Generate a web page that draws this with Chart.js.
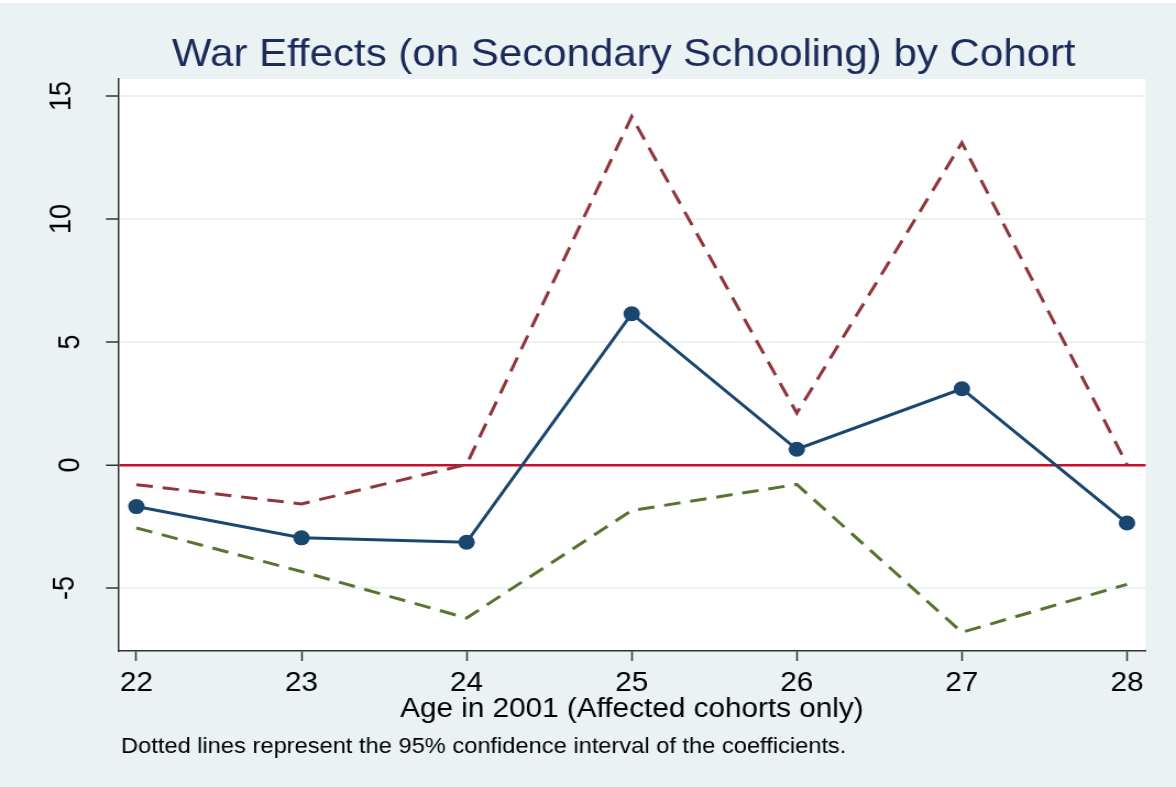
<!DOCTYPE html>
<html>
<head>
<meta charset="utf-8">
<title>War Effects by Cohort</title>
<script src="https://cdn.jsdelivr.net/npm/chart.js@4.4.1/dist/chart.umd.min.js"></script>
<style>
  html, body { margin: 0; padding: 0; background: #eaf2f3; overflow: hidden; }
  /* The graph is laid out on a 1069px-wide canvas and widened to the page width. */
  #wrap { position: absolute; left: 0; top: 0; width: 1069px; height: 787px;
          transform: scaleX(1.1001); transform-origin: 0 0; }
</style>
</head>
<body>
<div id="wrap"><canvas id="c"></canvas></div>
<script>
// Age in 2001 of each affected cohort
const ages = [22, 23, 24, 25, 26, 27, 28];
// Estimated war effect on secondary schooling, with its 95% confidence bounds
const coefficient = [-1.69, -2.96, -3.14, 6.15, 0.64, 3.10, -2.36];
const upperBound  = [-0.80, -1.58, 0.02, 14.16, 2.11, 13.10, 0.02];
const lowerBound  = [-2.56, -4.33, -6.22, -1.85, -0.79, -6.80, -4.85];
// Labelled values on the vertical axis
const yTicks = [-5, 0, 5, 10, 15];

const titleText = 'War Effects (on Secondary Schooling) by Cohort';
const xTitle = 'Age in 2001 (Affected cohorts only)';
const noteText = 'Dotted lines represent the 95% confidence interval of the coefficients.';

const FONT = '"Liberation Sans", Arial, Helvetica, sans-serif';
const BG = '#eaf2f3';

const toPoints = vals => ages.map((a, i) => ({ x: a, y: vals[i] }));

// Backgrounds, title, rotated y labels and the note under the graph
const decor = {
  id: 'decor',
  beforeDraw(chart) {
    const { ctx, width, height, chartArea: a } = chart;
    ctx.save();
    ctx.fillStyle = BG;
    ctx.fillRect(0, 0, width, height);
    ctx.fillStyle = '#ffffff';
    ctx.fillRect(0, 0, width, 3);
    ctx.fillRect(a.left, a.top, a.right - a.left, a.bottom - a.top);
    ctx.restore();
  },
  afterDraw(chart) {
    const { ctx } = chart;
    const yScale = chart.scales.y;
    ctx.save();
    ctx.fillStyle = '#1c2a5a';
    ctx.font = '38.2px ' + FONT;
    ctx.textAlign = 'center';
    ctx.textBaseline = 'alphabetic';
    ctx.fillText(titleText, 567, 66);

    ctx.fillStyle = '#000000';
    ctx.font = '27px ' + FONT;
    yTicks.forEach(v => {
      const label = String(v);
      const w = ctx.measureText(label).width;
      const cx = 69.5 - w / 2;
      const py = yScale.getPixelForValue(v);
      ctx.save();
      ctx.translate(cx + 9.7, py);
      ctx.rotate(-Math.PI / 2);
      ctx.textAlign = 'center';
      ctx.textBaseline = 'alphabetic';
      ctx.fillText(label, 0, 0);
      ctx.restore();
    });

    ctx.font = '21.5px ' + FONT;
    ctx.textAlign = 'left';
    ctx.textBaseline = 'alphabetic';
    ctx.fillText(noteText, 110, 753);
    ctx.restore();
  }
};

new Chart(document.getElementById('c'), {
  type: 'line',
  data: {
    datasets: [
      {
        label: 'Upper bound',
        data: toPoints(upperBound),
        borderColor: '#90353b',
        borderWidth: 3,
        borderDash: [15, 9],
        pointRadius: 0,
        fill: false,
        tension: 0
      },
      {
        label: 'Lower bound',
        data: toPoints(lowerBound),
        borderColor: '#55752f',
        borderWidth: 3,
        borderDash: [15, 9],
        pointRadius: 0,
        fill: false,
        tension: 0
      },
      {
        label: 'Coefficient',
        data: toPoints(coefficient),
        borderColor: '#1a476f',
        backgroundColor: '#1a476f',
        borderWidth: 3,
        pointRadius: 7.5,
        pointHoverRadius: 7.5,
        pointBackgroundColor: '#1a476f',
        pointBorderColor: '#1a476f',
        pointBorderWidth: 0,
        fill: false,
        tension: 0
      }
    ]
  },
  options: {
    responsive: true,
    maintainAspectRatio: false,
    animation: false,
    events: [],
    layout: { padding: { left: 0, right: 27.6, top: 79, bottom: 0 } },
    plugins: {
      legend: { display: false },
      title: { display: false },
      tooltip: { enabled: false }
    },
    scales: {
      x: {
        type: 'linear',
        min: 21.889,
        max: 28.113,
        afterBuildTicks: s => { s.ticks = ages.map(v => ({ value: v })); },
        afterFit: s => { s.height = 136; },
        grid: { drawOnChartArea: false, color: '#333333', tickColor: '#333333', tickLength: 10, tickWidth: 1.5 },
        border: { display: true, color: '#333333', width: 1.5 },
        ticks: { color: '#000000', font: { family: FONT, size: 27 }, padding: 6, autoSkip: false, maxRotation: 0 },
        title: {
          display: true,
          text: xTitle,
          color: '#000000',
          font: { family: FONT, size: 27, lineHeight: 1 },
          padding: { top: 0, bottom: 63.5 }
        }
      },
      y: {
        type: 'linear',
        min: -7.56,
        max: 15.69,
        afterBuildTicks: s => { s.ticks = yTicks.map(v => ({ value: v })); },
        afterFit: s => { s.width = 107.3; },
        grid: {
          drawOnChartArea: true,
          color: c => (c.tick && c.tick.value === 0) ? '#c8102e' : BG,
          lineWidth: c => (c.tick && c.tick.value === 0) ? 2.5 : 2,
          tickColor: '#333333',
          tickLength: 11,
          tickWidth: 1.5
        },
        border: { display: true, color: '#333333', width: 1.5 },
        ticks: { display: false }
      }
    }
  },
  plugins: [decor]
});
</script>
</body>
</html>
